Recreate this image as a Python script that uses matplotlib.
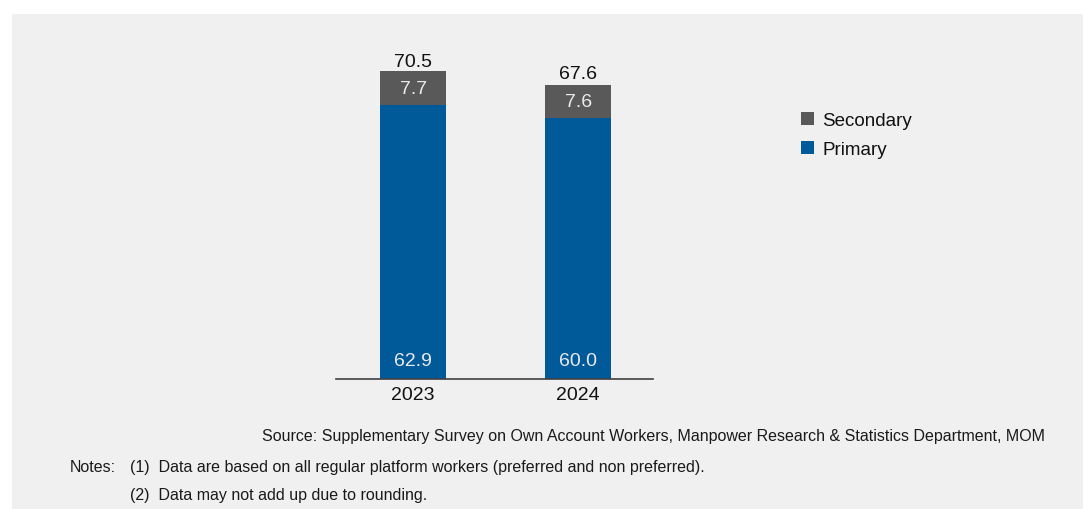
import matplotlib
matplotlib.use("Agg")
import matplotlib.pyplot as plt
from matplotlib.patches import Rectangle

plt.rcParams["font.family"] = ["Liberation Sans", "DejaVu Sans"]

# Data
years = ["2023", "2024"]
primary = [62.9, 60.0]
secondary = [7.7, 7.6]
totals = [70.5, 67.6]

primary_color = "#005a9a"
secondary_color = "#595959"
panel_color = "#f0f0f0"

W, H = 1085, 510
fig = plt.figure(figsize=(W / 100, H / 100), dpi=100)
fig.patch.set_facecolor("white")

# grey backing panel
fig.patches.append(Rectangle((12 / W, 0), (1083 - 12) / W, (H - 15) / H,
                             transform=fig.transFigure, facecolor=panel_color,
                             edgecolor="none", zorder=-10))


def px_axes(x0, y0, x1, y1):
    return [x0 / W, (H - y1) / H, (x1 - x0) / W, (y1 - y0) / H]


ax = fig.add_axes(px_axes(336, 40, 653, 380))
ax.set_facecolor("none")

x = list(range(len(years)))
width = 0.4
ax.bar(x, primary, width, color=primary_color, label="Primary", zorder=2)
ax.bar(x, secondary, width, bottom=primary, color=secondary_color,
       label="Secondary", zorder=2)

ax.set_ylim(0, 78.05)
ax.set_xlim(-0.4685, 1.4545)

FS = 14
for i in x:
    ax.annotate(f"{primary[i]:.1f}", (i, 0), xytext=(0, 13.5), textcoords="offset points",
                ha="center", va="center", color="#eaeaea", fontsize=FS)
    ax.text(i, primary[i] + secondary[i] / 2, f"{secondary[i]:.1f}",
            ha="center", va="center", color="#eaeaea", fontsize=FS)
    ax.annotate(f"{totals[i]:.1f}", (i, totals[i]), xytext=(0, 4.5),
                textcoords="offset points", ha="center", va="baseline",
                color="#111111", fontsize=FS)

for s in ["top", "right", "left"]:
    ax.spines[s].set_visible(False)
ax.spines["bottom"].set_color("#404040")
ax.spines["bottom"].set_linewidth(1.2)
ax.set_yticks([])
ax.set_xticks(x)
ax.set_xticklabels(years, fontsize=FS, color="#111111")
ax.tick_params(axis="x", length=0, pad=5)

handles, labels = ax.get_legend_handles_labels()
leg = fig.legend(handles[::-1], labels[::-1], loc="upper left",
                 bbox_to_anchor=(801 / W, 1 - 113 / H), frameon=False,
                 fontsize=13.5, handlelength=0.7, handleheight=0.7,
                 handletextpad=0.45, labelspacing=0.62, borderaxespad=0,
                 borderpad=0, labelcolor="#111111")

NS = 11.5
fig.text(1045 / W, 1 - 437 / H,
         "Source: Supplementary Survey on Own Account Workers, Manpower Research & Statistics Department, MOM",
         ha="right", va="center", fontsize=NS, color="#1a1a1a")
fig.text(70 / W, 1 - 468 / H, "Notes:", ha="left", va="center",
         fontsize=NS, color="#1a1a1a")
fig.text(130 / W, 1 - 468 / H,
         "(1)  Data are based on all regular platform workers (preferred and non preferred).",
         ha="left", va="center", fontsize=NS, color="#1a1a1a")
fig.text(130 / W, 1 - 496 / H, "(2)  Data may not add up due to rounding.",
         ha="left", va="center", fontsize=NS, color="#1a1a1a")

fig.savefig("out.png", dpi=100)
